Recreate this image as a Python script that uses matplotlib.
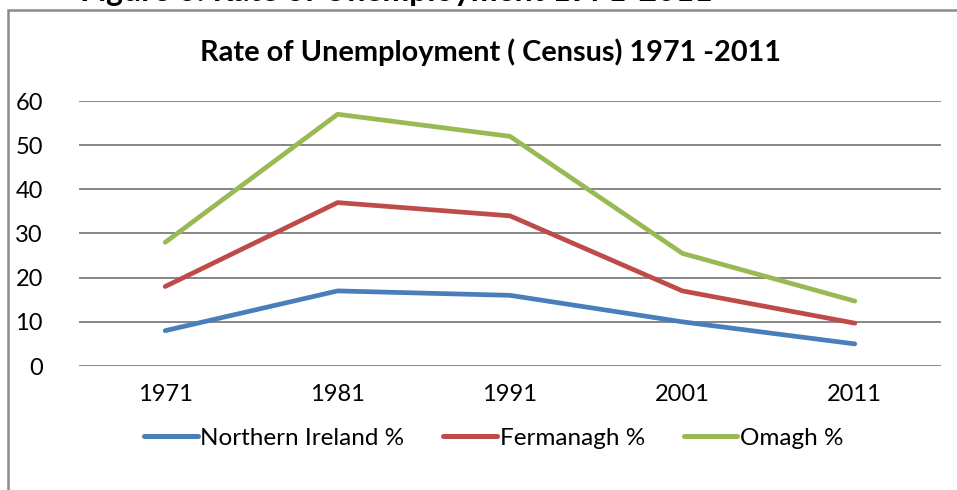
import matplotlib
matplotlib.use("Agg")
import matplotlib.pyplot as plt
from matplotlib.patches import Rectangle
from matplotlib.lines import Line2D

years = ["1971", "1981", "1991", "2001", "2011"]
northern_ireland = [8, 17, 16, 10, 5]
fermanagh = [18, 37, 34, 17, 9.7]
omagh = [28, 57, 52, 25.5, 14.7]
series_names = ["Northern Ireland %", "Fermanagh %", "Omagh %"]
colors = ["#4A7EBB", "#BE4B48", "#98B954"]
yticks = [0, 10, 20, 30, 40, 50, 60]

plt.rcParams['font.family'] = ['Lato', 'DejaVu Sans']

W, H = 957, 490
fig = plt.figure(figsize=(W / 100, H / 100), dpi=100)

# outer chart border
fig.patches.append(Rectangle((8 / W, -0.1), 1.2, (H - 10) / H + 0.1,
                             transform=fig.transFigure, fill=False,
                             edgecolor="#8c8c8c", linewidth=1.8))

# cut-off figure caption at top
fig.text(80 / W, 1.0 + 8 / H, "Figure 6: Rate of Unemployment 1971-2011",
         ha="left", va="center", fontsize=23, fontweight="bold", color="black")

ax = fig.add_axes([79 / W, (H - 366) / H, 862 / W, 265 / H])
x = list(range(len(years)))
for vals, name, c in zip([northern_ireland, fermanagh, omagh], series_names, colors):
    ax.plot(x, vals, color=c, linewidth=3.4, solid_capstyle="round", label=name)

ax.set_xlim(-0.5, len(years) - 0.5)
ax.set_ylim(0, 60)
ax.set_yticks(yticks)
ax.set_xticks(x)
ax.set_xticklabels(years)
ax.tick_params(axis="both", length=0, labelsize=17)
ax.tick_params(axis="y", pad=26)
ax.tick_params(axis="x", pad=13)
ax.grid(axis="y", color="#868686", linewidth=1.4)
ax.set_axisbelow(True)
for s in ax.spines.values():
    s.set_visible(False)

fig.text(490 / W, (H - 52) / H, "Rate of Unemployment ( Census) 1971 -2011",
         ha="center", va="center", fontsize=20.8, fontweight="bold")

handles = [Line2D([0], [0], color=c, linewidth=3.6, solid_capstyle="round") for c in colors]
leg = fig.legend(handles, series_names, loc="center", bbox_to_anchor=(494 / W, (H - 438) / H),
                 ncol=3, frameon=False, fontsize=17.5, handlelength=2.2, handletextpad=0.12,
                 columnspacing=1.6)

fig.savefig("out.png", dpi=100)
